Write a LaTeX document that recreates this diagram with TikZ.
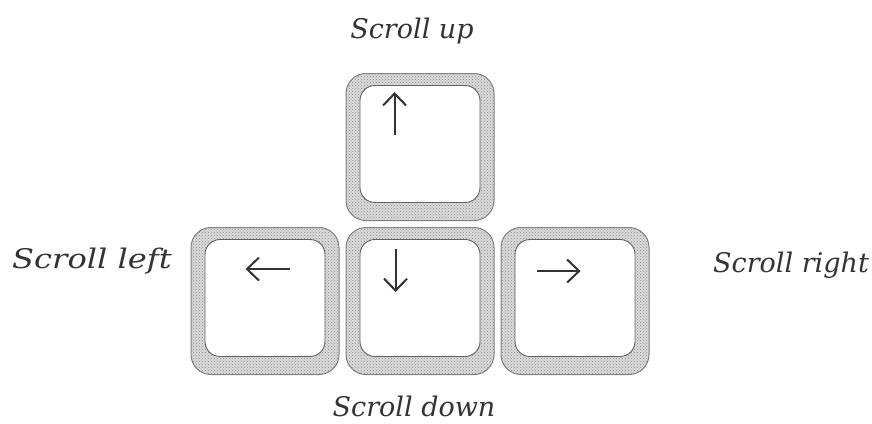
\documentclass[tikz,border=0pt]{standalone}
\usepackage{fontspec}
\setmainfont{DejaVu Serif}
\usepackage{graphicx}
\usepackage{tikz}
\usetikzlibrary{arrows.meta,calc,positioning,patterns}
\definecolor{ink}{HTML}{333333}
\definecolor{rim}{HTML}{808080}
\definecolor{dots}{HTML}{8A8A8A}

\begin{document}
\begin{tikzpicture}[x=1pt,y=-1pt,
  keycap/.style={minimum width=148pt,minimum height=147pt,rounded corners=20pt,draw=rim,line width=1pt,
    preaction={fill=gray!28},pattern=crosshatch dots,pattern color=dots,inner sep=0pt},
  keyface/.style={minimum width=120pt,minimum height=117pt,rounded corners=15pt,draw=rim!75!black,line width=0.9pt,fill=white,inner sep=0pt},
  keyarrow/.style={-{Straight Barb[length=12pt,width=23pt,line width=2pt]},line width=2pt,ink},
  scrolltext/.style={font=\itshape\fontsize{27}{30}\selectfont,text=ink,inner sep=0pt}]
\useasboundingbox (0,0) rectangle (872,423);
% keys
\node[keycap] (downkey) at (420,301) {};
\node[keycap,left=6pt of downkey] (leftkey) {};
\node[keycap,right=6pt of downkey] (rightkey) {};
\node[keycap,above=6pt of downkey] (upkey) {};
\node[keyface] (upface) at ([yshift=3pt]upkey.center) {};
\node[keyface] (downface) at ([yshift=3pt]downkey.center) {};
\node[keyface] (leftface) at ([yshift=3pt]leftkey.center) {};
\node[keyface] (rightface) at ([yshift=3pt]rightkey.center) {};
% arrows on the keys
\draw[keyarrow] ([shift={(35,50)}]upface.north west) -- ([shift={(35,7)}]upface.north west);
\draw[keyarrow] ([shift={(36,10)}]downface.north west) -- ([shift={(36,53)}]downface.north west);
\draw[keyarrow] ([shift={(85,30)}]leftface.north west) -- ([shift={(41,30)}]leftface.north west);
\draw[keyarrow] ([shift={(22,32)}]rightface.north west) -- ([shift={(66,32)}]rightface.north west);
% labels
\node[scrolltext,anchor=base] (uptext) at (412,38) {Scroll up};
\node[scrolltext,anchor=base west] (lefttext) at (12,268) {\scalebox{1.19}[1]{Scroll left}};
\node[scrolltext,anchor=base west] (righttext) at (713,272) {Scroll right};
\node[scrolltext,anchor=base] (downtext) at (414,416) {Scroll down};
\end{tikzpicture}
\end{document}
